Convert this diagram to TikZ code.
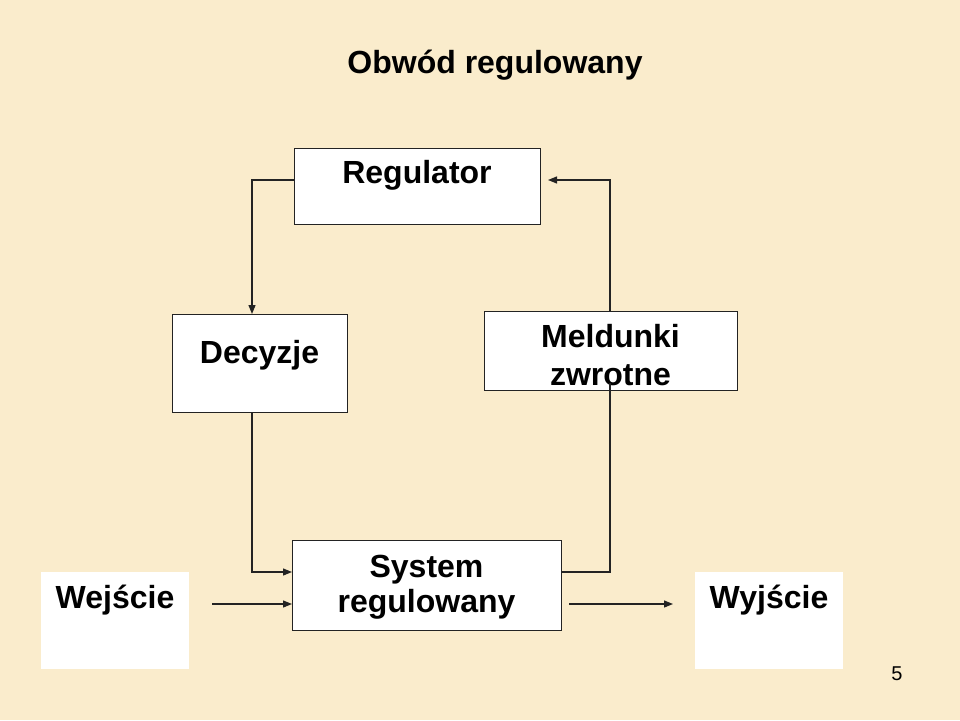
\documentclass[tikz,border=0pt]{standalone}
\usepackage{fontspec}
\setmainfont{Liberation Sans}
\usetikzlibrary{arrows.meta}
\definecolor{bg}{RGB}{250,236,204}
\definecolor{edge}{RGB}{35,35,35}
\begin{document}
\begin{tikzpicture}[x=1pt,y=-1pt,
 box/.style={draw=edge,line width=1.3pt,fill=white,inner sep=0pt,anchor=north west},
 plain/.style={fill=white,inner sep=0pt,anchor=north west},
 lbl/.style={font=\fontsize{32}{39}\selectfont\bfseries,anchor=base,inner sep=0pt},
 conn/.style={draw=edge,line width=1.2pt},
 arr/.style={conn,-{Triangle[length=9pt,width=7pt]}}]
\fill[bg] (0,0) rectangle (960,720);
\useasboundingbox (0,0) rectangle (960,720);
% boxes
\node[box,minimum width=246,minimum height=76] (reg) at (294,148) {};
\node[box,minimum width=175,minimum height=98] (dec) at (172,314) {};
\node[box,minimum width=253,minimum height=79] (meld) at (484,311) {};
\node[box,minimum width=269,minimum height=90] (sys) at (292,540) {};
\node[plain,minimum width=148,minimum height=97] (wej) at (41,572) {};
\node[plain,minimum width=148,minimum height=97] (wyj) at (695,572) {};
% texts
\node[lbl] (title) at (495,73) {Obwód regulowany};
\node[lbl] (regt) at (417,183) {Regulator};
\node[lbl] (dect) at (259.5,363) {Decyzje};
\node[lbl] (meldt1) at (610.5,347) {Meldunki};
\node[lbl] (meldt2) at (610.5,385) {zwrotne};
\node[lbl] (syst1) at (426.5,577) {System};
\node[lbl] (syst2) at (426.5,612) {regulowany};
\node[lbl] (wejt) at (115,608) {Wejście};
\node[lbl] (wyjt) at (769,608) {Wyjście};
\node[font=\fontsize{20}{24}\selectfont,anchor=base,inner sep=0pt] (page) at (897,680) {5};
% connectors
\coordinate (c1) at (252,180);
\coordinate (c2) at (610,180);
\coordinate (c3) at (548,180);
\coordinate (meldIn) at (610,383);
\coordinate (inStart) at (212,604);
\coordinate (outEnd) at (673,604);
\draw[arr] (reg.west |- c1) -- (c1) -- (c1 |- dec.north);
\draw[arr] (dec.south -| c1) -- (c1 |- 0,572) -- (sys.west |- 0,572);
\draw[conn] (sys.east |- 0,572) -- (610,572) -- (meldIn);
\draw[arr] (c2 |- meld.north) -- (c2) -- (c3);
\draw[arr] (inStart) -- (sys.west |- inStart);
\draw[arr] (sys.east |- outEnd) ++(7,0) -- (outEnd);
\end{tikzpicture}
\end{document}
